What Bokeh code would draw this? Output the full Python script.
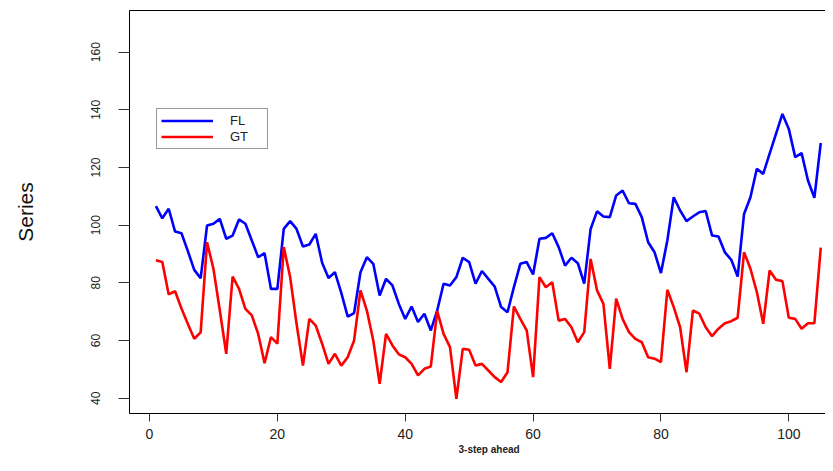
from bokeh.plotting import figure
from bokeh.models import LinearAxis, FixedTicker, Range1d, Legend, LegendItem, Title
from bokeh.embed import file_html
from bokeh.resources import INLINE

x = list(range(1, 106))
fl = [106.6, 102.4, 105.7, 97.8, 97.2, 91.0, 84.5, 81.6, 99.9, 100.5,
      102.2, 95.3, 96.4, 102.0, 100.5, 94.7, 88.9, 90.3, 77.9, 77.9,
      98.7, 101.4, 98.7, 92.6, 93.3, 97.0, 87.0, 81.7, 83.7, 76.5,
      68.3, 69.5, 83.7, 88.9, 86.6, 75.6, 81.4, 79.1, 72.7, 67.5,
      71.8, 66.4, 69.3, 63.5, 70.4, 79.7, 79.1, 82.0, 88.7, 87.2,
      79.7, 84.1, 81.4, 78.7, 71.6, 69.8, 78.5, 86.6, 87.2, 82.9,
      95.3, 95.6, 97.2, 92.4, 86.0, 88.7, 86.8, 79.7, 98.7, 104.8,
      103.0, 102.8, 110.3, 112.0, 107.6, 107.4, 102.8, 94.1, 90.6, 83.4,
      94.7, 109.7, 105.1, 101.4, 103.0, 104.5, 104.9, 96.4, 96.1, 90.6,
      88.0, 82.2, 103.9, 109.7, 119.6, 117.8, 124.8, 131.7, 138.6, 133.4,
      123.6, 125.0, 115.5, 109.5, 128.5]
gt = [87.8, 87.2, 76.0, 77.1, 71.1, 65.7, 60.6, 62.8, 94.1, 84.9,
      70.4, 55.4, 82.2, 77.9, 71.0, 68.7, 62.3, 52.1, 61.2, 58.9,
      92.4, 82.0, 65.8, 51.3, 67.5, 65.2, 58.9, 51.9, 55.4, 51.3,
      54.2, 60.0, 77.4, 70.4, 60.0, 45.0, 62.3, 58.3, 55.2, 54.2,
      51.9, 47.9, 50.2, 51.0, 70.2, 62.3, 57.7, 39.8, 57.1, 56.8,
      51.3, 51.9, 49.6, 47.3, 45.6, 49.0, 71.8, 67.5, 63.5, 47.3,
      82.0, 78.5, 80.2, 66.9, 67.5, 64.6, 59.4, 62.9, 88.3, 77.4,
      72.7, 50.2, 74.5, 67.5, 62.9, 60.6, 59.4, 54.2, 53.7, 52.5,
      77.6, 71.6, 64.6, 49.0, 70.4, 69.3, 64.6, 61.5, 64.1, 66.0,
      66.7, 67.9, 90.6, 84.9, 76.8, 65.8, 84.3, 81.1, 80.6, 67.9,
      67.5, 64.1, 66.0, 66.0, 92.2]
xticks = [0, 20, 40, 60, 80, 100]
yticks = [40, 60, 80, 100, 120, 140, 160]
series_names = ["FL", "GT"]
y_title = "Series"
x_title = "3-step ahead"

p = figure(width=825, height=455, output_backend="svg", toolbar_location=None,
           x_range=Range1d(-3.13, 105.74), y_range=Range1d(34.69, 174.46),
           x_axis_type=None, y_axis_type=None,
           min_border_left=129, min_border_right=0, min_border_top=10, min_border_bottom=42)
p.outline_line_color = None
p.background_fill_color = "white"
p.border_fill_color = "white"

yaxis = LinearAxis(ticker=FixedTicker(ticks=yticks), axis_label=y_title)
yaxis.major_tick_out = 11
yaxis.major_tick_in = 0
yaxis.minor_tick_out = 0
yaxis.major_label_orientation = "vertical"
yaxis.major_label_standoff = 18
yaxis.major_label_text_font = "Liberation Sans"
yaxis.major_label_text_font_size = "12px"
yaxis.major_label_text_color = "#222222"
yaxis.axis_label_standoff = 52
yaxis.axis_label_text_font = "Liberation Sans"
yaxis.axis_label_text_font_size = "21px"
yaxis.axis_label_text_font_style = "normal"
yaxis.axis_label_text_color = "#111111"
yaxis.axis_line_color = "black"
yaxis.major_tick_line_color = "#333333"
p.add_layout(yaxis, "left")

xaxis = LinearAxis(ticker=FixedTicker(ticks=xticks))
xaxis.major_tick_out = 8
xaxis.major_tick_in = 0
xaxis.minor_tick_out = 0
xaxis.major_label_standoff = 7
xaxis.major_label_text_font = "Liberation Sans"
xaxis.major_label_text_font_size = "14px"
xaxis.major_label_text_color = "#222222"
xaxis.axis_line_color = "black"
xaxis.major_tick_line_color = "#333333"
p.add_layout(xaxis, "below")

xtitle = Title(text=x_title, align="left", offset=329, standoff=0,
               text_font="Liberation Sans", text_font_size="10px",
               text_font_style="bold", text_color="#222222")
p.add_layout(xtitle, "below")

top = LinearAxis(ticker=FixedTicker(ticks=[]))
top.major_tick_out = 0
top.major_tick_in = 0
top.minor_tick_out = 0
top.major_label_text_font_size = "0px"
top.major_label_standoff = 0
top.axis_line_color = "black"
p.add_layout(top, "above")

r1 = p.line(x, fl, line_color="#0000FF", line_width=2.6)
r2 = p.line(x, gt, line_color="#FF0000", line_width=2.6)

legend = Legend(items=[LegendItem(label=series_names[0], renderers=[r1]),
                       LegendItem(label=series_names[1], renderers=[r2])],
                location=(27, 264))
legend.border_line_color = "#333333"
legend.border_line_width = 1
legend.padding = 4
legend.spacing = 1
legend.margin = 0
legend.glyph_height = 15
legend.glyph_width = 52
legend.label_standoff = 17
legend.label_width = 33
legend.label_height = 15
legend.label_text_font = "Liberation Sans"
legend.label_text_font_size = "13px"
legend.label_text_color = "#222222"
legend.background_fill_alpha = 1.0
p.add_layout(legend)

open("out.html", "w").write(file_html(p, INLINE))
